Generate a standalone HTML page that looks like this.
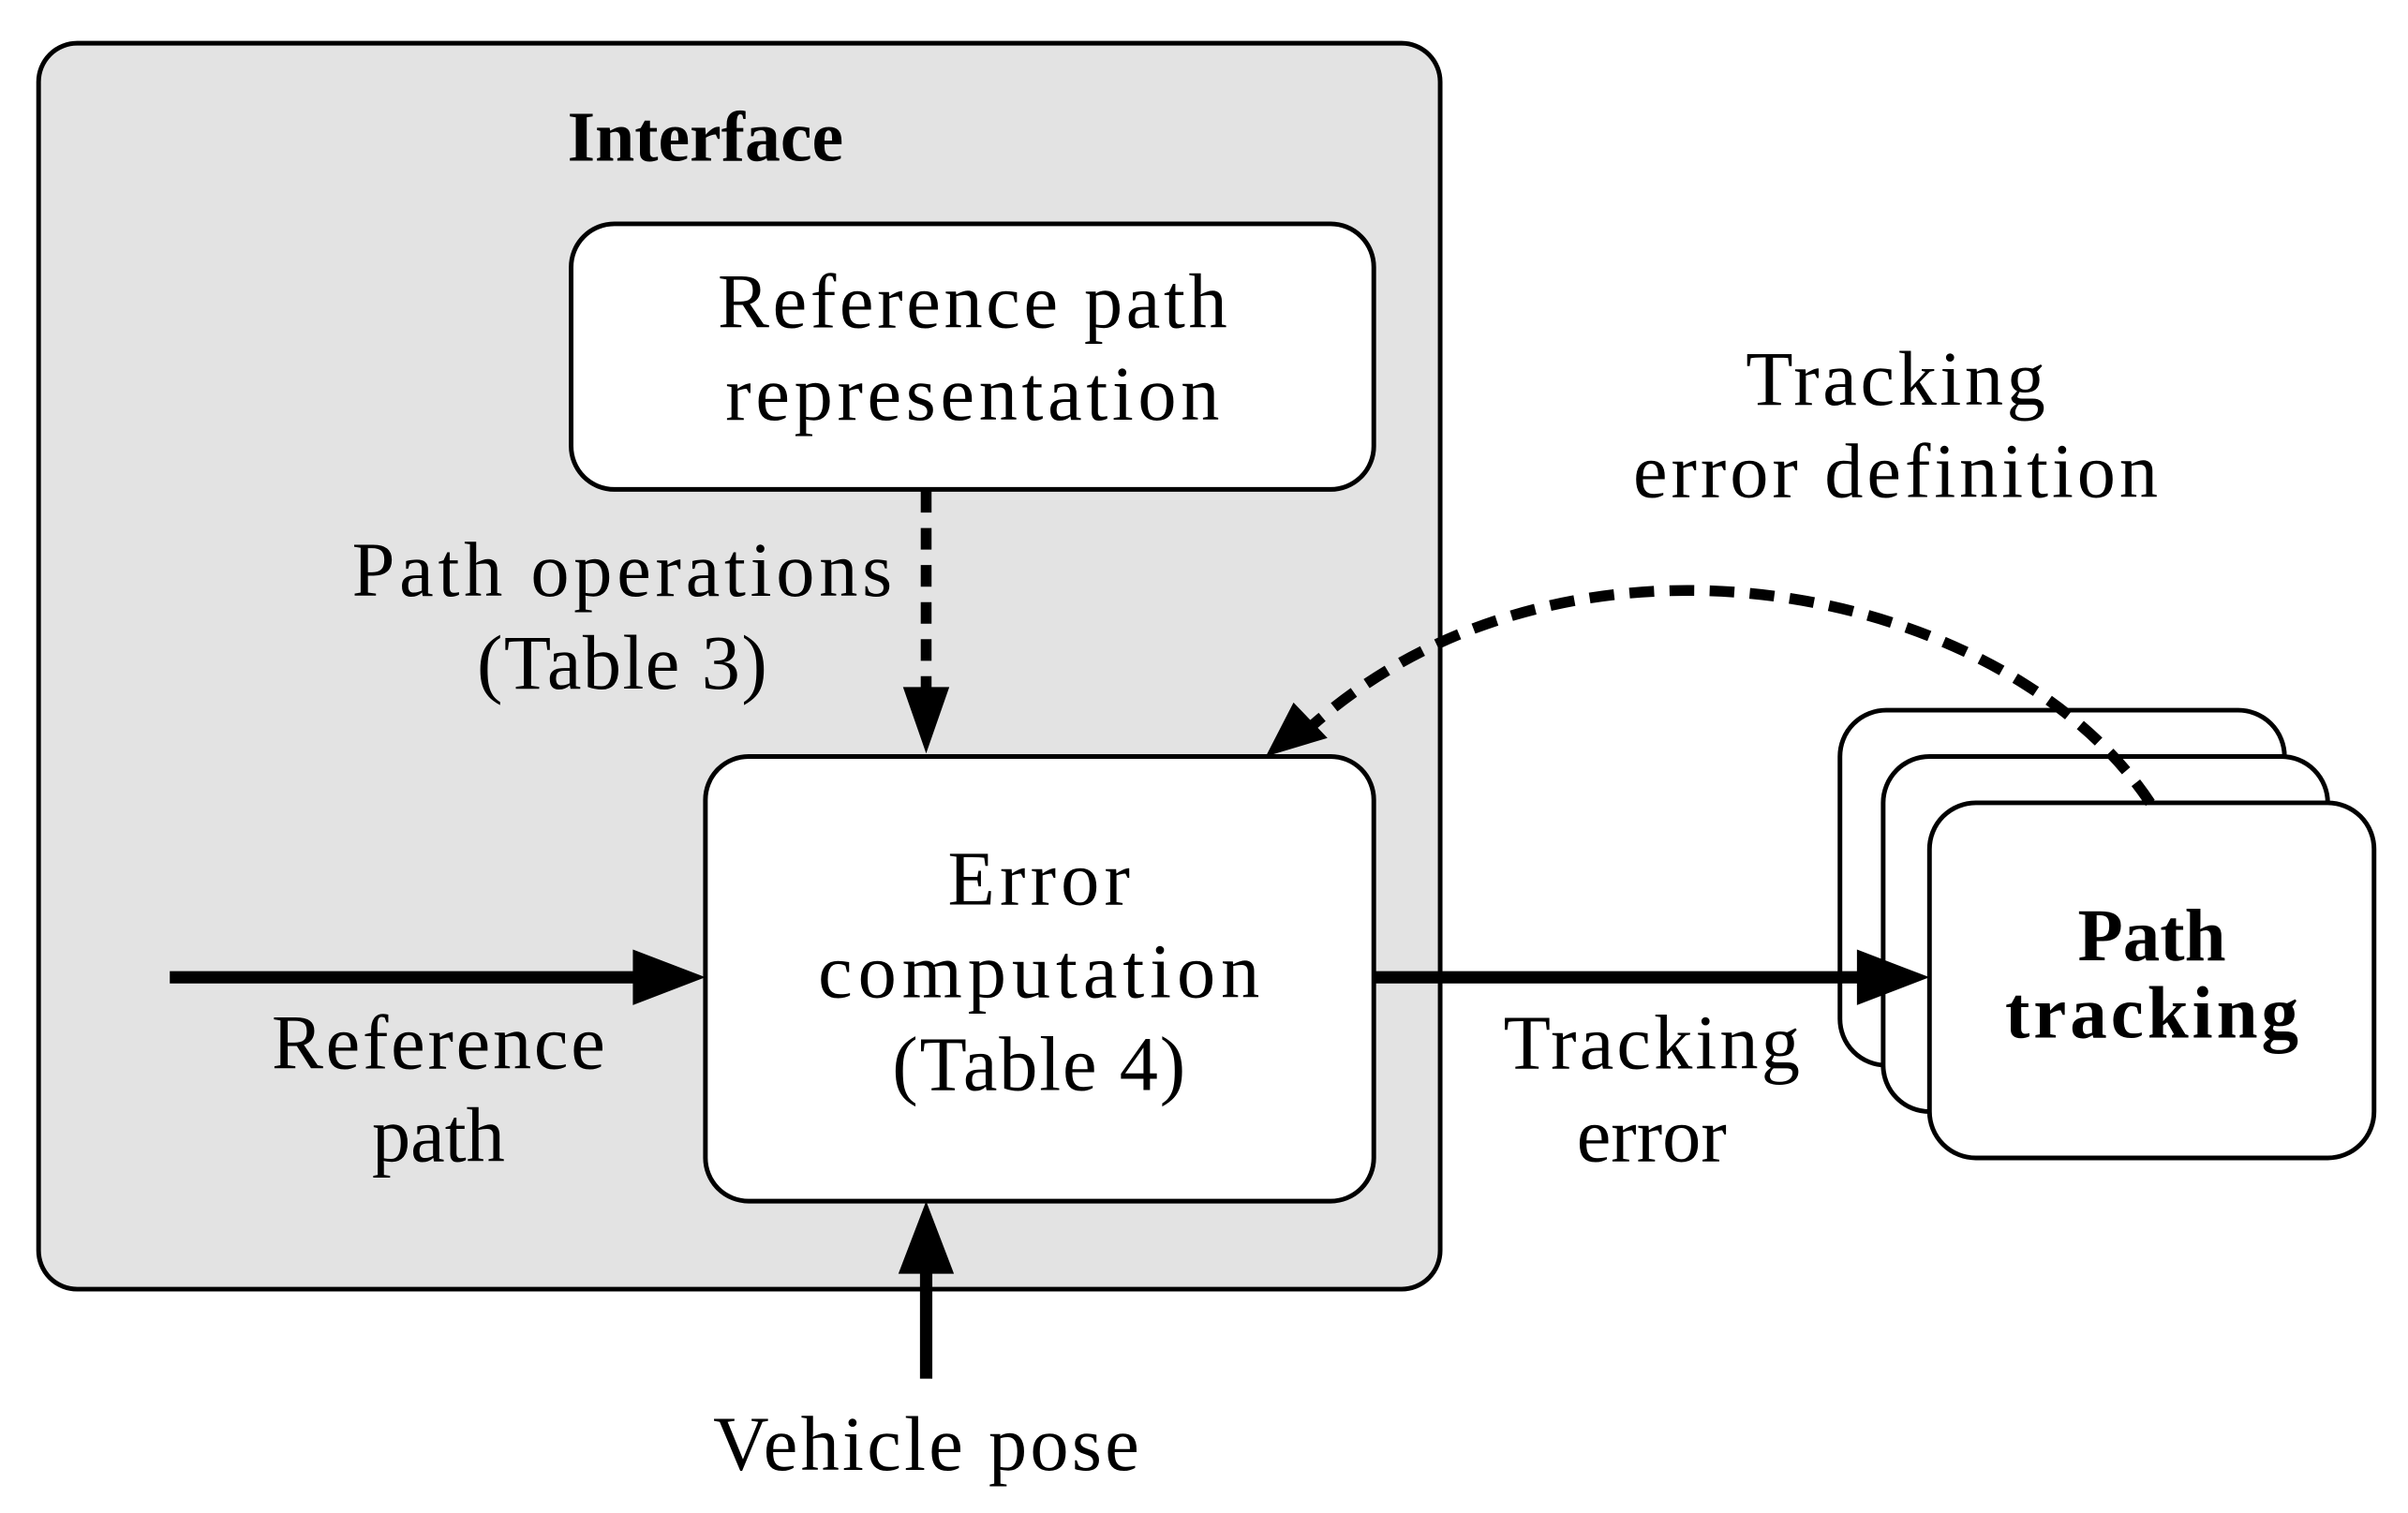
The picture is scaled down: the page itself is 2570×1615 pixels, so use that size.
<!DOCTYPE html>
<html><head><meta charset="utf-8"><style>html,body{margin:0;padding:0;background:#fff}svg{display:block}</style></head>
<body>
<svg width="2570" height="1615" viewBox="0 0 1560 980" preserveAspectRatio="none" xmlns="http://www.w3.org/2000/svg">
<g font-family="'Liberation Serif', serif" font-size="50" text-anchor="middle" fill="#000">
<rect x="25" y="28" width="908" height="807" rx="25" fill="#e3e3e3" stroke="#000" stroke-width="3"/>
<text x="457" y="104" font-weight="bold" font-size="46">Interface</text>
<rect x="370" y="145" width="520" height="172" rx="28" fill="#fff" stroke="#000" stroke-width="3"/>
<text x="630" y="212" textLength="330">Reference path</text>
<text x="630" y="272" textLength="320">representation</text>
<line x1="600" y1="318" x2="600" y2="450" stroke="#000" stroke-width="7" stroke-dasharray="14,10"/>
<path d="M585 445 L600 488 L615 445 Z" fill="#000"/>
<text x="578" y="386" text-anchor="end" textLength="350">Path operations</text>
<text x="403" y="446" textLength="188">(Table 3)</text>
<rect x="457" y="490" width="433" height="288" rx="28" fill="#fff" stroke="#000" stroke-width="3"/>
<text x="673" y="586" textLength="118">Error</text>
<text x="673" y="646" textLength="286">computation</text>
<text x="673" y="706" textLength="190">(Table 4)</text>
<line x1="110" y1="633" x2="415" y2="633" stroke="#000" stroke-width="8"/>
<path d="M410 615 L457 633 L410 651 Z" fill="#000"/>
<text x="284" y="692" textLength="216">Reference</text>
<text x="284" y="752">path</text>
<text x="1070" y="692" textLength="192">Tracking</text>
<text x="1070" y="752">error</text>
<line x1="600" y1="893" x2="600" y2="820" stroke="#000" stroke-width="8"/>
<path d="M582 825 L600 778 L618 825 Z" fill="#000"/>
<text x="600" y="952" textLength="276">Vehicle pose</text>
<rect x="1192" y="460" width="288" height="230" rx="30" fill="#fff" stroke="#000" stroke-width="3"/>
<rect x="1220" y="490" width="288" height="230" rx="30" fill="#fff" stroke="#000" stroke-width="3"/>
<rect x="1250" y="520" width="288" height="230" rx="30" fill="#fff" stroke="#000" stroke-width="3"/>
<line x1="890" y1="633" x2="1210" y2="633" stroke="#000" stroke-width="8"/>
<path d="M1203 615 L1250 633 L1203 651 Z" fill="#000"/>
<text x="1394" y="622" font-weight="bold" font-size="48">Path</text>
<text x="1394" y="672" font-weight="bold" font-size="48" textLength="190">tracking</text>
<text x="1228" y="262" textLength="194">Tracking</text>
<text x="1228" y="322" textLength="340">error definition</text>
<path d="M1393 520 C1300 380, 1020 320, 850 470" fill="none" stroke="#000" stroke-width="7" stroke-dasharray="16,10"/>
<path d="M820 490 L838 455 L860 478 Z" fill="#000"/>
</g>
</svg>
</body></html>
